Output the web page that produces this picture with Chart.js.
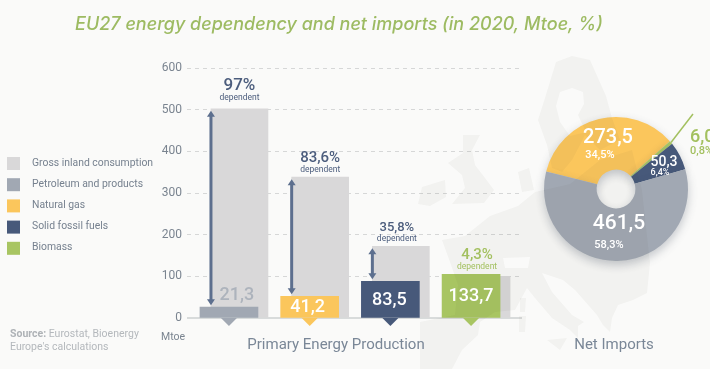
<!DOCTYPE html>
<html>
<head>
<meta charset="utf-8">
<title>EU27 energy dependency</title>
<script src="https://cdn.jsdelivr.net/npm/chart.js@4/dist/chart.umd.min.js"></script>
<style>
  html, body { margin: 0; padding: 0; background: #fafaf9; overflow: hidden; }
  #page { position: relative; width: 710px; height: 369px; }
  canvas { position: absolute; }
  #barChart { left: 0; top: 0; }
  #pieChart { left: 522px; top: 100px; }
</style>
</head>
<body>
<div id="page">
  <canvas id="barChart" width="710" height="369"></canvas>
  <canvas id="pieChart" width="188" height="178"></canvas>
</div>
<script>
// Data
const categories = ["Petroleum and products", "Natural gas", "Solid fossil fuels", "Biomass"];
const grossLabel = "Gross inland consumption";
const grossHeights = [502, 338, 172, 100];
const productionHeights = [26, 52, 88, 105];
const productionLabels = ["21,3", "41,2", "83,5", "133,7"];
const dependency = ["97%", "83,6%", "35,8%", "4,3%"];
const yTicks = [0, 100, 200, 300, 400, 500, 600];

const importCategories = ["Natural gas", "Biomass", "Solid fossil fuels", "Petroleum and products"];
const importValues = [273.5, 6.0, 50.3, 461.5];
const importLabels = ["273,5", "6,0", "50,3", "461,5"];
const importShares = ["34,5%", "0,8%", "6,4%", "58,3%"];

const GREY = "#d9d8d9";
const colors = { "Petroleum and products": "#a1a8b3", "Natural gas": "#fbc65c", "Solid fossil fuels": "#47597a", "Biomass": "#a8c562" };
const GREEN = "#a3c05f";
const NAVY = "#4c5d7d";
const FONT = "Roboto, sans-serif";

// Background map of Europe (decoration only, rough outlines)
const mapPaths = [
  // Scandinavia and Finland, with the Gulf of Bothnia cut out
  "M556 62L572 56 590 60 598 78 606 96 612 118 620 140 600 150 585 135 580 145 572 160 562 172 552 168 547 145 538 120 545 98Z M560 92L572 88 583 92 584 104 578 115 586 132 570 136 560 122 556 106Z",
  // UK and Ireland
  "M463 135L480 135 472 150 475 165 485 178 494 190 484 203 452 204 465 188 462 175 448 163 463 153Z",
  "M422 187L445 180 446 197 430 206 418 204Z",
  // Denmark
  "M518 172L529 168 534 190 522 192Z",
  // mainland with Spain, Italy, Balkans, Switzerland cut out
  "M442 240L450 262 458 285 455 315 420 322 420 369 452 369 462 350 478 335 480 322 495 312 515 310 527 288 535 298 552 318 570 330 578 338 578 326 584 322 572 315 552 292 542 273 563 280 575 290 597 315 603 325 610 332 612 318 618 305 633 300 647 293 650 263 642 190 632 150 600 160 570 184 535 192 518 206 490 216 465 236Z M503 258L530 257 528 268 505 268Z",
  // Sicily, Corsica, Sardinia
  "M547 340L567 338 560 350Z",
  "M520 298L526 298 525 312 520 312Z",
  "M519 316L526 316 525 332 519 332Z"
];
const mapShapes = mapPaths.map(d => new Path2D(d));
const MAP_TINT = "rgba(40,40,30,0.04)";

function drawMap(ctx, dx, dy) {
  ctx.save();
  ctx.translate(dx, dy);
  ctx.fillStyle = MAP_TINT;
  mapShapes.forEach(p => ctx.fill(p, "evenodd"));
  ctx.restore();
}

function text(ctx, str, x, y, font, color, align) {
  ctx.font = font;
  ctx.fillStyle = color;
  ctx.textAlign = align || "center";
  ctx.textBaseline = "middle";
  ctx.fillText(str, x, y);
}

// Arrow with two heads between two heights
function drawArrow(ctx, x, y1, y2) {
  ctx.strokeStyle = "#5d6f8e";
  ctx.fillStyle = "#5d6f8e";
  ctx.lineWidth = 3;
  ctx.beginPath();
  ctx.moveTo(x, y1 + 3);
  ctx.lineTo(x, y2 - 3);
  ctx.stroke();
  [[y1, 1], [y2, -1]].forEach(([y, dir]) => {
    ctx.beginPath();
    ctx.moveTo(x, y);
    ctx.lineTo(x - 4, y + dir * 6);
    ctx.lineTo(x + 4, y + dir * 6);
    ctx.closePath();
    ctx.fill();
  });
}

const barDecor = {
  id: "barDecor",
  beforeDatasetsDraw(chart) {
    const { ctx, chartArea, scales } = chart;
    ctx.save();
    ctx.strokeStyle = "#cdd0d1";
    ctx.lineWidth = 1.5;
    ctx.beginPath();
    ctx.moveTo(chartArea.left, scales.y.getPixelForValue(0));
    ctx.lineTo(chartArea.right, scales.y.getPixelForValue(0));
    ctx.stroke();
    ctx.restore();
  },
  afterDatasetsDraw(chart) {
    const { ctx, scales } = chart;
    const grossBars = chart.getDatasetMeta(0).data;
    const prodBars = chart.getDatasetMeta(1).data;
    const y0 = scales.y.getPixelForValue(0);
    ctx.save();

    drawMap(ctx, 0, 0);

    // little pointers below the production bars
    prodBars.forEach((bar, i) => {
      ctx.fillStyle = colors[categories[i]];
      ctx.beginPath();
      ctx.moveTo(bar.x - 8, y0);
      ctx.lineTo(bar.x + 8, y0);
      ctx.lineTo(bar.x, y0 + 8);
      ctx.closePath();
      ctx.fill();
    });

    // arrows
    [0, 1, 2].forEach(i => {
      drawArrow(ctx, grossBars[i].x - 28.5, grossBars[i].y + 2, prodBars[i].y - 2);
    });

    // values on bars
    const valueShift = [[8, -12], [-2, 11], [-1, 19], [0, 22]];
    productionLabels.forEach((s, i) => {
      text(ctx, s, prodBars[i].x + valueShift[i][0], prodBars[i].y + valueShift[i][1],
        "500 18px " + FONT, i === 0 ? "#adb3bc" : "#ffffff");
    });

    // dependency labels
    const pctSize = [17, 15, 13, 15];
    const depGap = [11, 7, 7, 7];
    dependency.forEach((s, i) => {
      const top = i === 3 ? prodBars[i].y : grossBars[i].y;
      const x = i === 3 ? prodBars[i].x + 6 : grossBars[i].x - (i === 2 ? 4 : 0);
      const color = i === 3 ? GREEN : NAVY;
      text(ctx, "dependent", x, top - depGap[i], "400 8.5px " + FONT, color);
      text(ctx, s, x, top - depGap[i] - 12, "500 " + pctSize[i] + "px " + FONT, color);
    });

    // title and captions
    text(ctx, "EU27 energy dependency and net imports (in 2020, Mtoe, %)", 75, 25,
      "italic 500 18px Inter, sans-serif", "#9dbb62", "left");
    text(ctx, "Primary Energy Production", 336, 345, "400 15px " + FONT, "#7a8797");
    text(ctx, "Net Imports", 614, 345, "400 15px " + FONT, "#7a8797");
    text(ctx, "Mtoe", 161, 337, "400 10.5px " + FONT, "#7a8490", "left");

    // legend
    const legendNames = [grossLabel].concat(categories);
    const legendColors = [GREY].concat(categories.map(c => colors[c]));
    legendNames.forEach((name, i) => {
      const y = 163 + i * 21.2;
      ctx.fillStyle = legendColors[i];
      ctx.fillRect(7, y - 6, 13, 13);
      text(ctx, name, 32, y, "400 10.4px " + FONT, "#76818f", "left");
    });

    // source
    text(ctx, "Source:", 10, 334, "700 10.5px " + FONT, "#aeb2b6", "left");
    const w = ctx.measureText("Source: ").width;
    text(ctx, "Eurostat, Bioenergy", 10 + w, 334, "400 10.5px " + FONT, "#b4b8bc", "left");
    text(ctx, "Europe's calculations", 10, 347, "400 10.5px " + FONT, "#b4b8bc", "left");
    ctx.restore();
  }
};

new Chart(document.getElementById("barChart"), {
  type: "bar",
  data: {
    datasets: [
      {
        label: grossLabel,
        data: categories.map((_, i) => ({ x: i, y: grossHeights[i] })),
        backgroundColor: GREY,
        xAxisID: "xGross",
        grouped: false,
        barThickness: 57,
        order: 2
      },
      {
        label: "Primary Energy Production",
        data: categories.map((_, i) => ({ x: i, y: productionHeights[i] })),
        backgroundColor: categories.map(c => colors[c]),
        xAxisID: "x",
        grouped: false,
        barThickness: 58,
        order: 1
      }
    ]
  },
  options: {
    responsive: false,
    animation: false,
    layout: { padding: { left: 150, right: 188, top: 68, bottom: 51 } },
    scales: {
      x: { type: "linear", display: false, offset: false, min: -0.52, max: 3.631 },
      xGross: { type: "linear", display: false, offset: false, min: -0.65, max: 3.501 },
      y: {
        min: 0,
        max: 600,
        afterBuildTicks: scale => { scale.ticks = yTicks.map(v => ({ value: v })); },
        afterFit: scale => { scale.width = 37; },
        ticks: { padding: 5, color: "#7a8490", font: { family: "Roboto", size: 12, weight: "400" } },
        grid: {
          drawTicks: false,
          color: ctx => (ctx.tick && ctx.tick.value === 0 ? "transparent" : "#d6d7d7")
        },
        border: { display: false, dash: [4, 4] }
      }
    },
    plugins: { legend: { display: false }, tooltip: { enabled: false } }
  },
  plugins: [barDecor]
});

const pieDecor = {
  id: "pieDecor",
  beforeDatasetsDraw(chart) {
    chart.ctx.save();
    chart.ctx.shadowColor = "rgba(70,80,95,0.3)";
    chart.ctx.shadowBlur = 10;
    chart.ctx.shadowOffsetY = 4;
  },
  afterDatasetsDraw(chart) {
    const { ctx } = chart;
    ctx.restore();
    ctx.save();

    // map shows through the ring, only where the ring is painted
    ctx.globalCompositeOperation = "source-atop";
    drawMap(ctx, -522, -100);
    ctx.globalCompositeOperation = "source-over";

    const arcs = chart.getDatasetMeta(0).data;
    const cx = arcs[0].x, cy = arcs[0].y;

    // leader line for the thin biomass slice
    const bio = arcs[1];
    const mid = (bio.startAngle + bio.endAngle) / 2;
    ctx.strokeStyle = GREEN;
    ctx.lineWidth = 1.5;
    ctx.beginPath();
    ctx.moveTo(cx + Math.cos(mid) * bio.outerRadius, cy + Math.sin(mid) * bio.outerRadius);
    ctx.lineTo(171, 14);
    ctx.stroke();

    text(ctx, importLabels[0], cx - 8, cy - 51, "500 20px " + FONT, "#fff");
    text(ctx, importShares[0], cx - 16, cy - 34, "500 11px " + FONT, "#fff");
    text(ctx, importLabels[2], cx + 48, cy - 27, "500 14px " + FONT, "#fff");
    text(ctx, importShares[2], cx + 44, cy - 16, "500 9px " + FONT, "#fff");
    text(ctx, importLabels[3], cx + 3, cy + 35, "500 21px " + FONT, "#fff");
    text(ctx, importShares[3], cx - 7, cy + 56, "500 11px " + FONT, "#fff");
    text(ctx, importLabels[1], 168, 37, "500 18px " + FONT, GREEN, "left");
    text(ctx, importShares[1], 168, 51, "500 11px " + FONT, GREEN, "left");
    ctx.restore();
  }
};

new Chart(document.getElementById("pieChart"), {
  type: "doughnut",
  data: {
    labels: importCategories,
    datasets: [{
      data: importValues,
      backgroundColor: importCategories.map(c => colors[c]),
      borderWidth: 0,
      radius: 72,
      cutout: 24,
      rotation: 284
    }]
  },
  options: {
    responsive: false,
    animation: false,
    plugins: { legend: { display: false }, tooltip: { enabled: false } }
  },
  plugins: [pieDecor]
});
</script>
</body>
</html>
